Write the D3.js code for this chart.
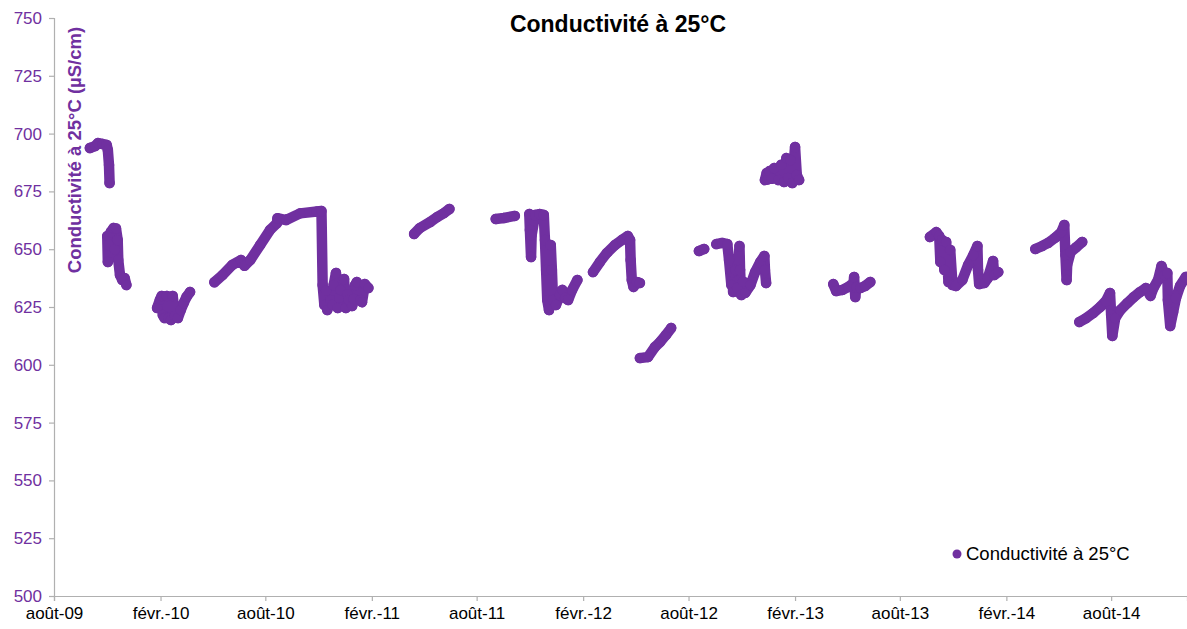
<!DOCTYPE html>
<html>
<head>
<meta charset="utf-8">
<script src="https://cdn.jsdelivr.net/npm/d3@7"></script>
<style>
  html, body { margin: 0; padding: 0; background: #fff; }
  svg { display: block; }
</style>
</head>
<body>
<svg id="chart" width="1187" height="629"></svg>
<script>
// ---------- DATA ----------
const title = "Conductivité à 25°C";
const yTitle = "Conductivité à 25°C (µS/cm)";
const legendLabel = "Conductivité à 25°C";
const yTicks = [500, 525, 550, 575, 600, 625, 650, 675, 700, 725, 750];
const xTickDates = ["2009-08-01","2010-02-01","2010-08-01","2011-02-01","2011-08-01","2012-02-01","2012-08-01","2013-02-01","2013-08-01","2014-02-01","2014-08-01"];
const xTickLabels = ["août-09","févr.-10","août-10","févr.-11","août-11","févr.-12","août-12","févr.-13","août-13","févr.-14","août-14"];

const s01 = [["2009-10-02",693.8],["2009-10-11",694.6],["2009-10-16",695.9],["2009-10-24",695.5],["2009-10-31",695.1],["2009-11-02",692.9],["2009-11-04",686.4],["2009-11-05",678.6]];
const s02 = [["2009-11-01",655.7],["2009-11-02",644.5],["2009-11-04",651.8],["2009-11-07",657.4],["2009-11-12",659.2],["2009-11-14",650.0],["2009-11-16",659.0],["2009-11-19",654.0],["2009-11-20",645.3],["2009-11-23",638.8],["2009-11-27",636.7],["2009-12-01",637.5],["2009-12-04",634.5]];
const s03 = [["2010-01-26",624.6],["2010-01-31",628.1],["2010-02-03",629.8],["2010-02-05",621.5],["2010-02-08",620.2],["2010-02-12",629.8],["2010-02-15",620.2],["2010-02-19",619.4],["2010-02-22",629.8],["2010-02-26",621.1],["2010-03-03",620.2],["2010-03-08",623.7],["2010-03-13",626.7],["2010-03-18",629.4],["2010-03-24",631.5]];
const s04 = [["2010-05-05",635.7],["2010-05-19",638.8],["2010-06-05",643.2],["2010-06-20",645.3],["2010-06-26",642.8],["2010-07-06",645.3],["2010-07-23",651.8],["2010-08-09",658.3],["2010-08-21",661.2],["2010-08-22",663.4],["2010-09-06",662.6],["2010-09-30",665.5],["2010-10-29",666.3],["2010-11-06",666.5],["2010-11-08",634.5],["2010-11-11",625.9],["2010-11-14",632.0],["2010-11-16",623.7],["2010-11-22",628.0],["2010-11-25",626.0],["2010-11-27",634.5],["2010-12-01",639.7],["2010-12-04",624.6],["2010-12-07",629.0],["2010-12-09",632.4],["2010-12-15",637.1],["2010-12-18",624.6],["2010-12-21",630.5],["2010-12-23",628.0],["2010-12-29",625.4],["2011-01-01",628.5],["2011-01-03",634.5],["2011-01-06",635.8],["2011-01-12",628.0],["2011-01-15",627.1],["2011-01-20",634.9],["2011-01-26",633.2]];
const s05 = [["2011-04-15",656.6],["2011-04-25",659.2],["2011-05-13",661.8],["2011-05-25",663.9],["2011-06-06",665.7],["2011-06-15",667.4]];
const s06 = [["2011-09-03",663.1],["2011-09-17",663.5],["2011-10-06",664.4]];
const s07 = [["2011-10-31",665.2],["2011-11-01",658.3],["2011-11-03",646.6],["2011-11-04",656.1],["2011-11-10",664.8],["2011-11-18",665.2],["2011-11-25",664.8],["2011-11-27",654.0],["2011-11-29",641.0],["2011-12-01",628.0],["2011-12-04",623.7],["2011-12-07",651.8],["2011-12-09",641.0],["2011-12-11",628.0],["2011-12-16",625.9],["2011-12-23",630.2],["2011-12-27",632.4],["2012-01-01",628.9],["2012-01-06",628.0],["2012-01-13",632.4],["2012-01-22",636.7]];
const s08 = [["2012-02-18",640.1],["2012-03-01",644.5],["2012-03-13",648.4],["2012-03-27",651.8],["2012-04-08",654.0],["2012-04-18",655.7],["2012-04-22",654.0],["2012-04-23",645.3],["2012-04-25",636.7],["2012-04-28",633.7],["2012-05-04",635.8],["2012-05-09",635.4]];
const s09 = [["2012-05-09",602.9],["2012-05-23",603.4],["2012-06-04",607.7],["2012-06-13",609.9],["2012-06-23",612.9],["2012-07-02",615.9]];
const s10 = [["2012-08-19",649.2],["2012-08-28",650.1]];
const s11 = [["2012-09-18",652.2],["2012-09-28",652.7],["2012-10-07",652.2],["2012-10-10",645.3],["2012-10-14",634.5],["2012-10-16",640.0],["2012-10-17",631.5],["2012-10-21",641.0],["2012-10-24",633.2],["2012-10-28",651.4],["2012-10-29",641.0],["2012-10-31",630.2],["2012-11-03",636.0],["2012-11-07",631.1],["2012-11-16",634.5],["2012-11-24",640.1],["2012-12-03",644.5],["2012-12-10",647.1],["2012-12-11",641.0],["2012-12-13",635.4]];
const s12 = [["2012-12-11",679.9],["2012-12-14",683.0],["2012-12-16",680.2],["2012-12-19",683.8],["2012-12-23",680.5],["2012-12-27",685.1],["2013-01-03",679.9],["2013-01-08",686.5],["2013-01-13",679.1],["2013-01-17",689.4],["2013-01-20",680.8],["2013-01-24",688.6],["2013-01-27",678.6],["2013-02-01",694.2],["2013-02-04",682.1],["2013-02-08",679.9]];
const s13 = [["2013-04-08",634.9],["2013-04-13",631.9],["2013-04-24",632.4],["2013-05-04",633.7],["2013-05-13",635.4],["2013-05-14",638.0],["2013-05-16",629.3],["2013-05-18",633.6],["2013-05-25",633.2],["2013-06-02",634.1],["2013-06-11",635.8]];
const s14 = [["2013-09-22",655.3],["2013-10-03",657.4],["2013-10-08",655.7],["2013-10-10",644.5],["2013-10-13",654.0],["2013-10-17",641.0],["2013-10-20",653.1],["2013-10-24",635.8],["2013-10-27",649.7],["2013-10-31",634.5],["2013-11-06",634.1],["2013-11-17",636.7],["2013-11-27",643.2],["2013-12-06",647.5],["2013-12-13",651.4],["2013-12-14",641.0],["2013-12-16",634.9],["2013-12-25",635.4],["2013-12-31",637.5],["2014-01-09",644.9],["2014-01-11",638.8],["2014-01-18",640.1]];
const s15 = [["2014-03-23",650.1],["2014-04-04",651.4],["2014-04-14",652.7],["2014-04-26",654.9],["2014-05-07",657.4],["2014-05-12",660.5],["2014-05-14",647.5],["2014-05-16",636.7],["2014-05-17",643.2],["2014-05-23",648.8],["2014-06-02",650.9],["2014-06-12",653.1]];
const s16 = [["2014-06-07",618.5],["2014-06-19",620.2],["2014-07-01",622.4],["2014-07-13",625.0],["2014-07-23",627.6],["2014-07-30",631.1],["2014-08-01",621.5],["2014-08-03",612.5],["2014-08-08",620.2],["2014-08-17",623.7],["2014-08-29",626.7],["2014-09-09",629.3],["2014-09-20",631.5],["2014-09-30",633.2],["2014-10-08",629.8],["2014-10-13",633.2],["2014-10-21",636.7],["2014-10-27",642.7],["2014-11-01",638.8],["2014-11-06",639.7],["2014-11-07",628.0],["2014-11-11",616.8],["2014-11-16",622.8],["2014-11-21",628.9],["2014-11-28",634.1],["2014-12-08",638.0]];
const segments = [s01,s02,s03,s04,s05,s06,s07,s08,s09,s10,s11,s12,s13,s14,s15,s16];

// ---------- CHART ----------
const color = "#7030A0";
const parse = d3.utcParse("%Y-%m-%d");
const svg = d3.select("#chart");

const x = d3.scaleUtc()
  .domain([parse("2009-08-01"), parse("2014-12-10")])
  .range([54, 1187]);
const y = d3.scaleLinear().domain([500, 750]).range([596, 18]);

// title
svg.append("text")
  .attr("x", 618).attr("y", 32)
  .attr("text-anchor", "middle")
  .style("font-family", "'Liberation Sans', Arial, sans-serif")
  .style("font-weight", "bold").style("font-size", "23px").style("fill", "#000")
  .text(title);

// y axis
const yAxis = svg.append("g").attr("transform", "translate(54,0)")
  .call(d3.axisLeft(y).tickValues(yTicks).tickSize(5).tickPadding(7).tickFormat(d3.format("d")));
yAxis.select(".domain").attr("stroke", "#B0B0B0").attr("stroke-width", 1.2);
yAxis.selectAll(".tick line").attr("stroke", "#B0B0B0").attr("stroke-width", 1.2);
yAxis.selectAll(".tick text")
  .style("font-family", "'Liberation Sans', Arial, sans-serif")
  .style("font-size", "17px").style("fill", color);

// x axis
const xAxis = svg.append("g").attr("transform", "translate(0,596)")
  .call(d3.axisBottom(x).tickValues(xTickDates.map(parse)).tickSize(5).tickPadding(6)
        .tickFormat((d, i) => xTickLabels[i]));
xAxis.select(".domain").attr("stroke", "#B0B0B0").attr("stroke-width", 1.2);
xAxis.selectAll(".tick line").attr("stroke", "#B0B0B0").attr("stroke-width", 1.2);
xAxis.selectAll(".tick text")
  .style("font-family", "'Liberation Sans', Arial, sans-serif")
  .style("font-size", "17px").style("fill", "#000");

// y axis title
svg.append("text")
  .attr("transform", "translate(81,150) rotate(-90)")
  .attr("text-anchor", "middle")
  .style("font-family", "'Liberation Sans', Arial, sans-serif")
  .style("font-weight", "bold").style("font-size", "18.5px").style("fill", color)
  .text(yTitle);

// data
const line = d3.line().x(d => x(parse(d[0]))).y(d => y(d[1]));
const gData = svg.append("g");
gData.selectAll("path.seg").data(segments).join("path")
  .attr("class", "seg")
  .attr("d", line)
  .attr("fill", "none")
  .attr("stroke", color)
  .attr("stroke-width", 10.5)
  .attr("stroke-linecap", "round")
  .attr("stroke-linejoin", "round");
gData.selectAll("circle").data(segments.flat()).join("circle")
  .attr("cx", d => x(parse(d[0])))
  .attr("cy", d => y(d[1]))
  .attr("r", 5.25)
  .attr("fill", color);

// legend
svg.append("circle").attr("cx", 957).attr("cy", 554).attr("r", 4.5).attr("fill", color);
svg.append("text")
  .attr("x", 966).attr("y", 560)
  .style("font-family", "'Liberation Sans', Arial, sans-serif")
  .style("font-size", "18.5px").style("fill", "#000")
  .text(legendLabel);
</script>
</body>
</html>
